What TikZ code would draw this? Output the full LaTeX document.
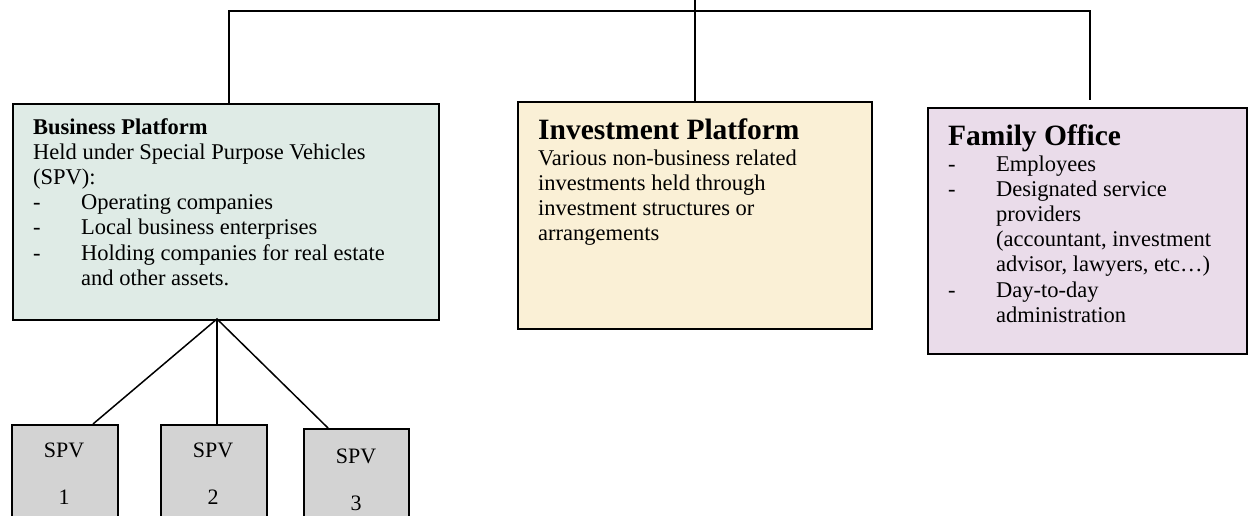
\documentclass[tikz,border=0pt]{standalone}
\usepackage{fontspec}
\setmainfont{Liberation Serif}
\definecolor{bpfill}{RGB}{223,235,230}
\definecolor{ipfill}{RGB}{250,240,214}
\definecolor{fofill}{RGB}{234,220,234}
\definecolor{spvfill}{RGB}{211,211,211}
\newcommand\dashitem[1]{\hbox{\makebox[48pt][l]{-}#1}}
\newcommand\contline[1]{\hbox{\hspace*{48pt}#1}}
\newcommand\spvtext[1]{\vtop{\baselineskip=47pt\halign{\hfil##\hfil\cr SPV\cr #1\cr}}}
\tikzset{
  box/.style={draw=black, line width=1.8pt, anchor=north west, inner sep=0pt},
  link/.style={draw=black, line width=1.5pt},
  body/.style={anchor=base west, inner sep=0pt, font=\fontsize{22.5}{25.2}\selectfont},
  head/.style={anchor=base west, inner sep=0pt, font=\bfseries\fontsize{29.5}{32}\selectfont},
  spvlabel/.style={anchor=base, inner sep=0pt, font=\fontsize{22}{47}\selectfont},
}
\begin{document}
\begin{tikzpicture}[x=1pt,y=-1pt]
\useasboundingbox (0,0) rectangle (1248,515);
\clip (0,0) rectangle (1248,515);
\fill[white] (0,0) rectangle (1248,515);
% boxes
\node[box, fill=bpfill, minimum width=426pt, minimum height=216pt] (bp) at (12,103) {};
\node[box, fill=ipfill, minimum width=354pt, minimum height=227pt] (ip) at (517,101) {};
\node[box, fill=fofill, minimum width=319pt, minimum height=246pt] (fo) at (927,107) {};
\node[box, fill=spvfill, minimum width=106pt, minimum height=120pt] (s1) at (11,424) {};
\node[box, fill=spvfill, minimum width=106pt, minimum height=120pt] (s2) at (160,424) {};
\node[box, fill=spvfill, minimum width=105pt, minimum height=120pt] (s3) at (303,428) {};
% texts
\node[body] (bpt) at (33,134) {\vtop{%
  \hbox{\bfseries Business Platform}
  \hbox{Held under Special Purpose Vehicles}
  \hbox{(SPV):}
  \dashitem{Operating companies}
  \dashitem{Local business enterprises}
  \dashitem{Holding companies for real estate}
  \contline{and other assets.}}};
\node[head] (iph) at (538,139) {Investment Platform};
\node[body] (ipt) at (538,165) {\vtop{%
  \hbox{Various non-business related}
  \hbox{investments held through}
  \hbox{investment structures or}
  \hbox{arrangements}}};
\node[head] (foh) at (948,145) {Family Office};
\node[body] (fot) at (948,171) {\vtop{%
  \dashitem{Employees}
  \dashitem{Designated service}
  \contline{providers}
  \contline{(accountant, investment}
  \contline{advisor, lawyers, etc…)}
  \dashitem{Day-to-day}
  \contline{administration}}};
\node[spvlabel] (l1) at (64,457) {\spvtext{1}};
\node[spvlabel] (l2) at (213,457) {\spvtext{2}};
\node[spvlabel] (l3) at (356,463) {\spvtext{3}};
% connectors
\coordinate (tl) at (229,11);
\coordinate (tr) at (1090,11);
\coordinate (top) at (695,0);
\coordinate (foend) at (1090,100);
\coordinate (apex) at (217,319);
\coordinate (e1) at (93,424);
\coordinate (e2) at (217,424);
\coordinate (e3) at (328,428);
\draw[link] (tl |- bp.north) -- (tl) -- (tr) -- (foend);
\draw[link] (top) -- (top |- ip.north);
\draw[link] (e1) -- (apex) -- (e3);
\draw[link] (apex) -- (e2);
\end{tikzpicture}
\end{document}
